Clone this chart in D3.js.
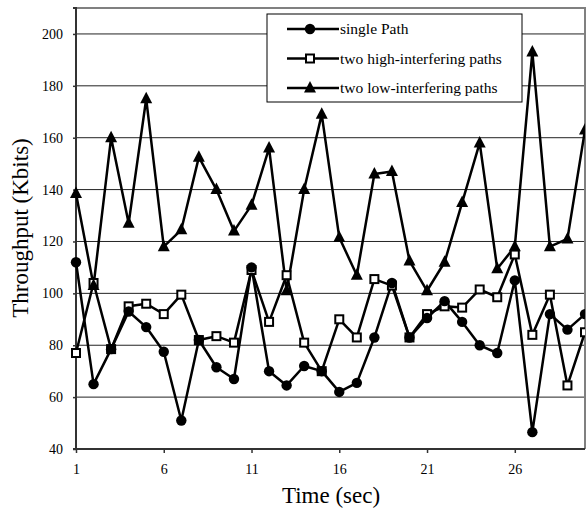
<!DOCTYPE html>
<html>
<head>
<meta charset="utf-8">
<script src="https://cdn.jsdelivr.net/npm/d3@7"></script>
<style>
  body { margin: 0; background: #fff; }
</style>
</head>
<body>
<div id="chart"></div>
<script>
const time = d3.range(1, 31);
const singlePath = [112, 65, 78.5, 93, 87, 77.5, 51, 82, 71.5, 67,
    110, 70, 64.5, 72, 70, 62, 65.5, 83, 104, 83,
    90.5, 97, 89, 80, 77, 105, 46.5, 92, 86, 92];
const highInterf = [77, 104, 78.5, 95, 96, 92, 99.5, 82, 83.5, 81,
    109, 89, 107, 81, 70, 90, 83, 105.5, 103, 83,
    92, 95, 94.5, 101.5, 98.5, 115, 84, 99.5, 64.5, 85];
const lowInterf = [138.5, 103, 160, 127, 175, 118, 124.5, 152.5, 140, 124,
    134, 156, 101, 140, 169, 121.5, 107, 146, 147, 112.5,
    101, 112, 135, 158, 109.5, 118, 193, 118, 121, 163];
const yTicks = [40, 60, 80, 100, 120, 140, 160, 180, 200];
const xTicks = [1, 6, 11, 16, 21, 26];
const seriesNames = ['single Path', 'two high-interfering paths', 'two low-interfering paths'];

const W = 587, H = 511;
const mLeft = 76, mRight = 585, mTop = 8, mBottom = 449;
const serif = '"Liberation Serif", "Times New Roman", Times, serif';

const x = d3.scaleLinear().domain([1, 30]).range([mLeft, mRight]);
const y = d3.scaleLinear().domain([40, 210]).range([mBottom, mTop]);

const svg = d3.select('#chart').append('svg')
    .attr('width', W)
    .attr('height', H)
    .style('font-family', serif);

svg.append('defs').append('clipPath').attr('id', 'plot')
    .append('rect')
    .attr('x', mLeft - 8).attr('y', mTop)
    .attr('width', mRight - mLeft + 8).attr('height', mBottom - mTop);

// grid
svg.append('g').selectAll('line').data(yTicks.filter(d => d > 40)).enter()
    .append('line')
    .attr('x1', mLeft).attr('x2', mRight)
    .attr('y1', d => y(d)).attr('y2', d => y(d))
    .attr('stroke', '#222').attr('stroke-width', 1);

// frame (top / right)
svg.append('path')
    .attr('d', 'M' + mLeft + ',' + mTop + 'H' + mRight + 'V' + mBottom)
    .attr('fill', 'none').attr('stroke', '#808080').attr('stroke-width', 2);

// axes
const yAxis = svg.append('g')
    .attr('transform', 'translate(' + mLeft + ',0)')
    .call(d3.axisLeft(y).tickValues(yTicks).tickSize(3).tickPadding(10));
const xAxis = svg.append('g')
    .attr('transform', 'translate(0,' + mBottom + ')')
    .call(d3.axisBottom(x).tickValues(xTicks).tickSize(4).tickPadding(11));
[yAxis, xAxis].forEach(function (a) {
    a.attr('font-family', null).attr('font-size', null);
    a.select('.domain').attr('stroke', '#333').attr('stroke-width', 2);
    a.selectAll('.tick line').attr('stroke', '#333').attr('stroke-width', 1.5);
    a.selectAll('.tick text')
        .style('font-family', serif)
        .style('font-size', '14px')
        .attr('fill', '#000');
});
yAxis.select('.domain').attr('d', 'M-3,' + y(210) + 'H0V' + mBottom + 'H-3');
xAxis.select('.domain').attr('d', 'M' + mLeft + ',0H' + mRight);

// titles
svg.append('text')
    .attr('x', 331).attr('y', 503)
    .attr('text-anchor', 'middle')
    .style('font-family', serif)
    .style('font-size', '23px')
    .text('Time (sec)');
svg.append('text')
    .attr('transform', 'translate(28,' + 228 + ') rotate(-90)')
    .attr('text-anchor', 'middle')
    .style('font-family', serif)
    .style('font-size', '23px')
    .text('Throughput (Kbits)');

const line = d3.line().x((d, i) => x(time[i])).y(d => y(d));
const plot = svg.append('g').attr('clip-path', 'url(#plot)');

function drawMarker(g, kind) {
    if (kind === 'circle') {
        g.append('circle').attr('r', 5.2).attr('fill', '#000');
    } else if (kind === 'square') {
        g.append('rect').attr('x', -4).attr('y', -4).attr('width', 8).attr('height', 8)
            .attr('fill', '#fff').attr('stroke', '#000').attr('stroke-width', 2);
    } else {
        g.append('path').attr('d', 'M0,-7L6,4.5L-6,4.5Z').attr('fill', '#000');
    }
}

const series = [
    { values: highInterf, kind: 'square' },
    { values: singlePath, kind: 'circle' },
    { values: lowInterf, kind: 'triangle' }
];

series.forEach(function (s) {
    plot.append('path')
        .attr('d', line(s.values))
        .attr('fill', 'none')
        .attr('stroke', '#000')
        .attr('stroke-width', 2.5)
        .attr('stroke-linejoin', 'round');
});
series.forEach(function (s) {
    plot.append('g').selectAll('g').data(s.values).enter()
        .append('g')
        .attr('transform', (d, i) => 'translate(' + x(time[i]) + ',' + y(d) + ')')
        .each(function () { drawMarker(d3.select(this), s.kind); });
});

// legend
const legend = svg.append('g');
legend.append('rect')
    .attr('x', 267).attr('y', 14)
    .attr('width', 255).attr('height', 88)
    .attr('fill', '#fff').attr('stroke', '#000').attr('stroke-width', 1);
const kinds = ['circle', 'square', 'triangle'];
seriesNames.forEach(function (name, i) {
    const ly = 29 + i * 29.5;
    const g = legend.append('g');
    g.append('line')
        .attr('x1', 287).attr('x2', 339)
        .attr('y1', ly).attr('y2', ly)
        .attr('stroke', '#000').attr('stroke-width', 2.5);
    drawMarker(g.append('g').attr('transform', 'translate(310,' + ly + ')'), kinds[i]);
    g.append('text')
        .attr('x', 340).attr('y', ly + 5)
        .style('font-family', serif)
        .style('font-size', '15.5px')
        .text(name);
});
</script>
</body>
</html>
